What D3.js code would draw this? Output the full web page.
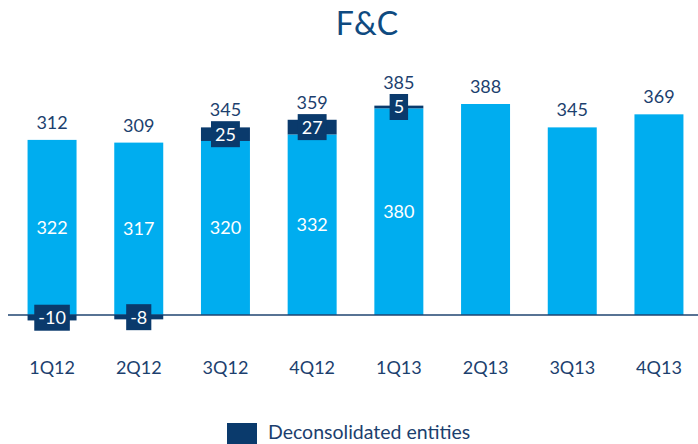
<!DOCTYPE html>
<html>
<head>
<meta charset="utf-8">
<script src="https://cdn.jsdelivr.net/npm/d3@7"></script>
<style>
  body { margin: 0; background: #fff; }
  svg { display: block; font-family: Lato, "Open Sans", sans-serif; }
</style>
</head>
<body>
<div id="chart"></div>
<script>
const w = 698;
const h = 444;

// data
const quarters = ["1Q12", "2Q12", "3Q12", "4Q12", "1Q13", "2Q13", "3Q13", "4Q13"];
const core = [322, 317, 320, 332, 380, 388, 345, 369];
const deconsolidated = [-10, -8, 25, 27, 5, null, null, null];
const totals = [312, 309, 345, 359, 385, 388, 345, 369];

const lightBlue = "#00adef";
const navy = "#0a3a6c";
const textNavy = "#1c3f6e";

const svg = d3.select("#chart").append("svg").attr("width", w).attr("height", h);

const x = d3.scaleBand()
    .domain(quarters)
    .range([8.7, 702.3])
    .paddingInner(0.435)
    .paddingOuter(0.2175);

const y = d3.scaleLinear().domain([0, 388]).range([315, 104]);

const rows = quarters.map((q, i) => ({q, core: core[i], dec: deconsolidated[i], total: totals[i]}));

//title
svg.append("text")
    .attr("x", 367).attr("y", 35)
    .attr("text-anchor", "middle")
    .style("font-size", "32px")
    .style("fill", "#0f4a80")
    .text("F&C");

//core bars
svg.selectAll(".core")
    .data(rows)
    .enter().append("rect")
        .attr("class", "core")
        .attr("x", d => x(d.q))
        .attr("width", x.bandwidth())
        .attr("y", d => y(d.core))
        .attr("height", d => y(0) - y(d.core))
        .style("fill", lightBlue);

//baseline
svg.append("line")
    .attr("x1", 8).attr("x2", w)
    .attr("y1", y(0)).attr("y2", y(0))
    .style("stroke", "#1f4470")
    .style("stroke-width", 1.5);

const decRows = rows.filter(d => d.dec !== null);

//deconsolidated segments, below the axis when negative, on top when positive
svg.selectAll(".dec")
    .data(decRows)
    .enter().append("rect")
        .attr("class", "dec")
        .attr("x", d => x(d.q))
        .attr("width", x.bandwidth())
        .attr("y", d => d.dec < 0 ? y(0) : y(d.core + d.dec))
        .attr("height", d => Math.abs(y(0) - y(Math.abs(d.dec))))
        .style("fill", navy);

function segMid(d) {
    if (d.dec < 0) return y(0) + (y(0) - y(-d.dec)) / 2;
    return (y(d.core) + y(d.core + d.dec)) / 2;
}

//labels in navy boxes
const decLabel = svg.selectAll(".dec-label")
    .data(decRows)
    .enter().append("g")
        .attr("class", "dec-label")
        .attr("transform", d => "translate(" + [x(d.q) + x.bandwidth() / 2, segMid(d)] + ")");

decLabel.append("text")
    .attr("text-anchor", "middle")
    .attr("dy", "0.36em")
    .style("font-size", "18px")
    .style("fill", "#fff")
    .text(d => d.dec);

decLabel.each(function() {
    const g = d3.select(this);
    const bb = g.select("text").node().getBBox();
    g.insert("rect", "text")
        .attr("x", -bb.width / 2 - 4)
        .attr("width", bb.width + 8)
        .attr("y", -13)
        .attr("height", 26)
        .style("fill", navy);
});

//core value labels
svg.selectAll(".core-label")
    .data(rows.filter(d => d.dec !== null))
    .enter().append("text")
        .attr("class", "core-label")
        .attr("x", d => x(d.q) + x.bandwidth() / 2)
        .attr("y", d => (y(0) + y(d.core)) / 2)
        .attr("dy", "0.36em")
        .attr("text-anchor", "middle")
        .style("font-size", "18px")
        .style("fill", "#fff")
        .text(d => d.core);

//totals
svg.selectAll(".total")
    .data(rows)
    .enter().append("text")
        .attr("class", "total")
        .attr("x", d => x(d.q) + x.bandwidth() / 2)
        .attr("y", d => {
            const top = y(Math.max(d.core, d.core + (d.dec || 0)));
            if (d.dec > 0) return Math.min(top - 11, segMid(d) - 13 - 5);
            return top - 11;
        })
        .attr("text-anchor", "middle")
        .style("font-size", "18px")
        .style("fill", textNavy)
        .text(d => d.total);

//x axis labels
const xAxis = svg.append("g")
    .attr("transform", "translate(0," + 374 + ")")
    .call(d3.axisBottom(x).tickSize(0).tickPadding(0));
xAxis.select(".domain").remove();
xAxis.selectAll("text")
    .attr("dy", 0)
    .style("font-family", "Lato, 'Open Sans', sans-serif")
    .style("font-size", "18px")
    .style("fill", textNavy);

//legend
const legend = svg.append("g").attr("id", "legend");
legend.append("rect")
    .attr("x", 227).attr("y", 423)
    .attr("width", 30).attr("height", 21)
    .style("fill", navy);
legend.append("text")
    .attr("x", 268).attr("y", 439)
    .style("font-size", "19.5px")
    .style("fill", textNavy)
    .text("Deconsolidated entities");
</script>
</body>
</html>
